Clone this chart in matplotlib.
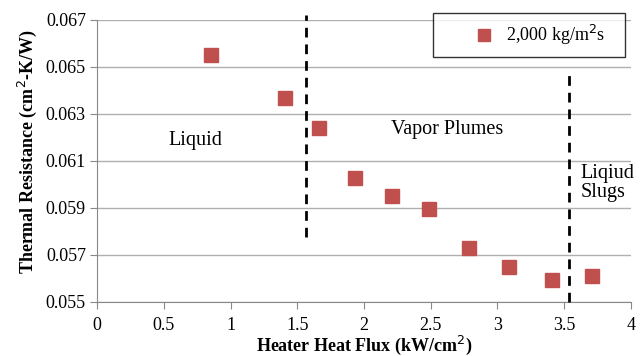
import matplotlib.pyplot as plt
from matplotlib.lines import Line2D

# heater heat flux (kW/cm^2) vs thermal resistance (cm^2-K/W)
heat_flux = [0.85, 1.41, 1.66, 1.93, 2.21, 2.49, 2.79, 3.09, 3.41, 3.71]
resistance = [0.06552, 0.06368, 0.06241, 0.06028, 0.05951, 0.05897,
              0.05728, 0.05647, 0.05592, 0.05610]

# regime boundaries (x position, y from, y to)
boundary_x = [1.565, 3.54]
boundary_y0 = [0.05775, 0.055]
boundary_y1 = [0.0672, 0.0647]

plt.rcParams["font.family"] = ["Liberation Serif", "DejaVu Serif"]
fig = plt.figure(figsize=(6.43, 3.56), dpi=100)
ax = fig.add_axes([0.151, 0.152, 0.830, 0.792])

ax.plot(heat_flux, resistance, linestyle="none", marker="s", markersize=10.5,
        color="#C0504D", markeredgecolor="#C0504D", zorder=3)

for x, y0, y1 in zip(boundary_x, boundary_y0, boundary_y1):
    ax.plot([x, x], [y0, y1], color="black", linestyle=(0, (3.5, 2.5)),
            linewidth=2, clip_on=False, zorder=4)

ax.text(0.74, 0.06185, "Liquid", fontsize=14.5, ha="center", va="center")
ax.text(2.62, 0.06232, "Vapor Plumes", fontsize=14.5, ha="center", va="center")
ax.text(3.625, 0.06005, "Liqiud\nSlugs", fontsize=14.5, ha="left", va="center",
        linespacing=1.0)

ax.set_xlim(0, 4)
ax.set_ylim(0.055, 0.067)
ax.set_xticks([0, 0.5, 1, 1.5, 2, 2.5, 3, 3.5, 4])
ax.set_xticklabels(["0", "0.5", "1", "1.5", "2", "2.5", "3", "3.5", "4"])
ax.set_yticks([0.055, 0.057, 0.059, 0.061, 0.063, 0.065, 0.067])
ax.set_yticklabels(["0.055", "0.057", "0.059", "0.061", "0.063", "0.065", "0.067"])
ax.tick_params(axis="both", labelsize=13, colors="black")
ax.tick_params(axis="x", direction="out", length=5, color="#888888", pad=6)
ax.tick_params(axis="y", direction="out", length=5, color="#888888", pad=3)
ax.grid(axis="y", color="#b0b0b0", linewidth=1)
ax.set_axisbelow(True)
for side in ["top", "right"]:
    ax.spines[side].set_visible(False)
for side in ["left", "bottom"]:
    ax.spines[side].set_color("#888888")

ax.set_xlabel("Heater Heat Flux (kW/cm$^{2}$)", fontsize=13, fontweight="bold",
              labelpad=0)
ax.set_ylabel("Thermal Resistance (cm$^{2}$-K/W)", fontsize=13,
              fontweight="bold", labelpad=5)
ax.yaxis.label.set_y(0.532)

handle = Line2D([0], [0], linestyle="none", marker="s", markersize=8.6,
                color="#C0504D")
leg = ax.legend([handle], ["2,000 kg/m$^{2}$s\u00a0\u00a0\u00a0"],
                loc="upper right", bbox_to_anchor=(0.989, 1.025), fontsize=13,
                frameon=True, fancybox=False, borderpad=0.55,
                handlelength=4.55, handletextpad=-1.05, borderaxespad=0)
leg.get_frame().set_edgecolor("black")
leg.get_frame().set_linewidth(1)

fig.savefig("out.png", dpi=100)
